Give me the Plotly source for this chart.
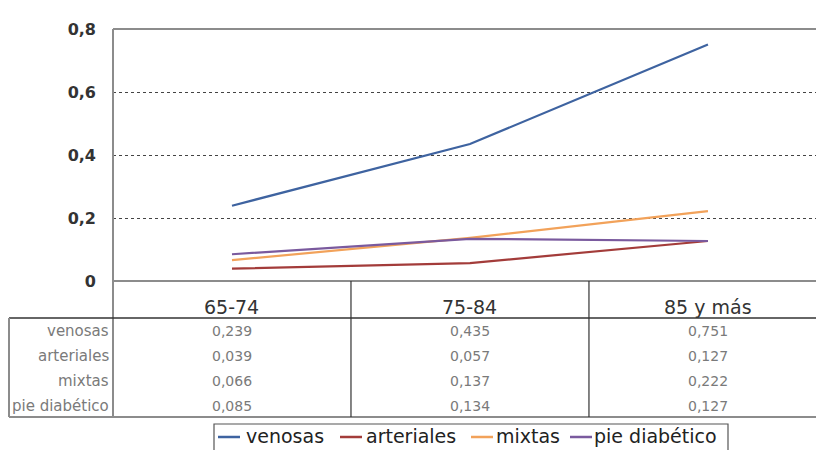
import plotly.graph_objects as go

# ---- data ----
categories = ["65-74", "75-84", "85 y más"]
series_names = ["venosas", "arteriales", "mixtas", "pie diabético"]
venosas = [0.239, 0.435, 0.751]
arteriales = [0.039, 0.057, 0.127]
mixtas = [0.066, 0.137, 0.222]
pie_diabetico = [0.085, 0.134, 0.127]
y_tickvals = [0, 0.2, 0.4, 0.6, 0.8]
y_ticktext = ["0", "0,2", "0,4", "0,6", "0,8"]

series_values = [venosas, arteriales, mixtas, pie_diabetico]
colors = ["#3e63a0", "#a33c3a", "#f2a25a", "#7a5a9e"]

W, H = 816, 450


def px_x(x):
    return x / W


def px_y(y):
    return 1 - y / H


x_idx = list(range(len(categories)))

fig = go.Figure()
for name, vals, col in zip(series_names, series_values, colors):
    fig.add_trace(go.Scatter(x=x_idx, y=vals, name=name, mode="lines",
                             line=dict(color=col, width=2.2), showlegend=False))

FRAME = "#8c8c8c"
DARK = "#333333"
shapes = []
# plot frame
shapes.append(dict(type="line", xref="paper", yref="paper", x0=px_x(113), x1=1,
                   y0=px_y(29), y1=px_y(29), line=dict(color=FRAME, width=2)))
shapes.append(dict(type="line", xref="paper", yref="paper", x0=px_x(113), x1=px_x(113),
                   y0=px_y(29), y1=px_y(417), line=dict(color=FRAME, width=2)))
# table lines
shapes.append(dict(type="line", xref="paper", yref="paper", x0=px_x(113), x1=1,
                   y0=px_y(281), y1=px_y(281), line=dict(color=FRAME, width=2)))
shapes.append(dict(type="line", xref="paper", yref="paper", x0=px_x(9), x1=1,
                   y0=px_y(318), y1=px_y(318), line=dict(color=DARK, width=1.6)))
shapes.append(dict(type="line", xref="paper", yref="paper", x0=px_x(9), x1=1,
                   y0=px_y(417), y1=px_y(417), line=dict(color=FRAME, width=2)))
shapes.append(dict(type="line", xref="paper", yref="paper", x0=px_x(9), x1=px_x(9),
                   y0=px_y(318), y1=px_y(417), line=dict(color=FRAME, width=2)))
for i in range(len(categories) - 1):
    shapes.append(dict(type="line", xref="x", yref="paper", x0=i + 0.5, x1=i + 0.5,
                       y0=px_y(281), y1=px_y(417), line=dict(color=DARK, width=1.2)))

annotations = []
header_y = 307
row_ys = [331, 356, 381, 406]
for i, c in enumerate(categories):
    annotations.append(dict(x=i, xref="x", y=px_y(header_y), yref="paper", text=c,
                            showarrow=False, xanchor="center", yanchor="middle",
                            font=dict(family="DejaVu Sans", size=19, color="#333333")))
for j, (name, vals) in enumerate(zip(series_names, series_values)):
    annotations.append(dict(x=px_x(111), xref="paper", y=px_y(row_ys[j]), yref="paper",
                            text=name, showarrow=False, xanchor="right", yanchor="middle",
                            font=dict(family="DejaVu Sans", size=15, color="#7a7a7a")))
    for i, v in enumerate(vals):
        annotations.append(dict(x=i, xref="x", y=px_y(row_ys[j]), yref="paper",
                                text=f"{v:.3f}".replace(".", ","), showarrow=False,
                                xanchor="center", yanchor="middle",
                                font=dict(family="DejaVu Sans", size=14, color="#7a7a7a")))

# ---- custom legend (box partly cut by the bottom edge, as in the reference) ----
legend_y = 436
legend_dash_x = [218, 340, 471, 570]
legend_text_x = [244, 364, 494, 592]
shapes.append(dict(type="rect", xref="paper", yref="paper", x0=px_x(214), x1=px_x(728),
                   y0=px_y(424), y1=px_y(462), line=dict(color="#555555", width=1.2),
                   fillcolor="white", layer="below"))
for name, col, dx, tx in zip(series_names, colors, legend_dash_x, legend_text_x):
    shapes.append(dict(type="line", xref="paper", yref="paper", x0=px_x(dx), x1=px_x(dx + 22),
                       y0=px_y(legend_y + 1), y1=px_y(legend_y + 1),
                       line=dict(color=col, width=2.5)))
    annotations.append(dict(x=px_x(tx), xref="paper", y=px_y(legend_y), yref="paper",
                            text=name, showarrow=False, xanchor="left", yanchor="middle",
                            font=dict(family="DejaVu Sans", size=19, color="#222222")))

fig.update_layout(
    width=W, height=H,
    margin=dict(l=0, r=0, t=0, b=0, pad=0, autoexpand=False),
    paper_bgcolor="white", plot_bgcolor="white",
    xaxis=dict(domain=[px_x(113), 1], range=[-0.5, 2.454], showticklabels=False,
               showgrid=False, zeroline=False, showline=False, ticks="", automargin=False),
    yaxis=dict(domain=[px_y(281), px_y(29)], range=[0, 0.8], tickvals=y_tickvals,
               ticktext=y_ticktext, showgrid=True, gridcolor="#444444", gridwidth=1,
               griddash="dot", zeroline=False, showline=False, ticks="",
               ticklabelstandoff=16, automargin=False,
               tickfont=dict(family="DejaVu Sans", size=16, color="#333333", weight="bold")),
    shapes=shapes,
    annotations=annotations,
    showlegend=False,
)

fig.write_html("out.html")
